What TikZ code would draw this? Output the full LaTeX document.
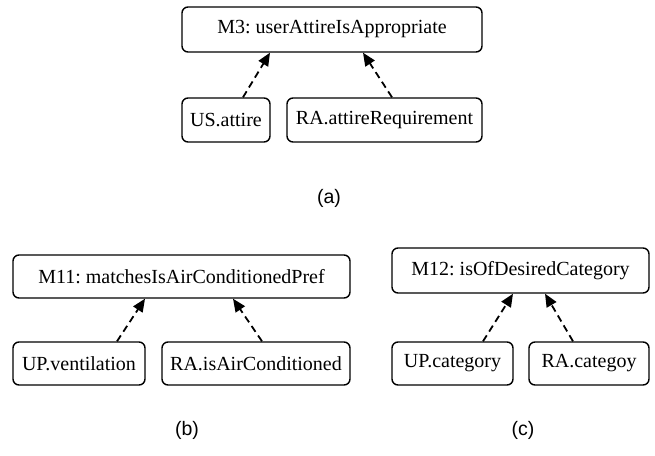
\documentclass[tikz,border=0pt]{standalone}
\usepackage{fontspec}
\setmainfont{Liberation Serif}
\setsansfont{Liberation Sans}
\usetikzlibrary{arrows.meta}
\frenchspacing
\tikzset{
  attr/.style={draw, rounded corners=6pt, line width=1.4pt, inner sep=0pt,
    minimum height=44pt, font=\fontsize{20}{23}\selectfont},
  dep/.style={line width=1.8pt, dash pattern=on 7pt off 4.5pt,
    -{Triangle[length=13pt,width=11pt]}},
  caption/.style={font=\sffamily\fontsize{19.5}{22}\selectfont}
}
\begin{document}
\begin{tikzpicture}[x=1pt,y=-1pt]
\useasboundingbox (0,0) rectangle (655,455);
% (a)
\node[attr, minimum width=300pt, minimum height=45pt] (m3) at (332,29.5) {M3: userAttireIsAppropriate};
\node[attr, minimum width=88pt] (usa) at (226,120) {US.attire};
\node[attr, minimum width=195pt] (raa) at (384.5,120) {RA.attireRequirement};
\draw[dep] ([xshift=17pt]usa.north) -- ([xshift=-62pt]m3.south);
\draw[dep] ([xshift=7.5pt]raa.north) -- ([xshift=31pt]m3.south);
\node[caption] (capa) at (329,198) {(a)};
% (b)
\node[attr, minimum width=337pt, minimum height=43pt] (m11) at (181.5,276.5) {M11: matchesIsAirConditionedPref};
\node[attr, minimum width=132pt, minimum height=43pt] (upv) at (79,363.5) {UP.ventilation};
\node[attr, minimum width=188pt, minimum height=43pt] (rai) at (256,363.5) {RA.isAirConditioned};
\draw[dep] ([xshift=38pt]upv.north) -- ([xshift=-36.5pt]m11.south);
\draw[dep] ([xshift=6pt]rai.north) -- ([xshift=51.5pt]m11.south);
\node[caption] (capb) at (187,430) {(b)};
% (c)
\node[attr, minimum width=257pt, minimum height=45pt] (m12) at (520.5,270.5) {M12: isOfDesiredCategory};
\node[attr, minimum width=121pt, minimum height=43pt] (upc) at (452.5,363.5) {UP.category};
\node[attr, minimum width=120pt, minimum height=43pt] (rac) at (589,363.5) {RA.categoy};
\draw[dep] ([xshift=30.5pt]upc.north) -- ([xshift=-7.5pt]m12.south);
\draw[dep] ([xshift=-16pt]rac.north) -- ([xshift=24.5pt]m12.south);
\node[caption] (capc) at (523,430) {(c)};
\end{tikzpicture}
\end{document}
